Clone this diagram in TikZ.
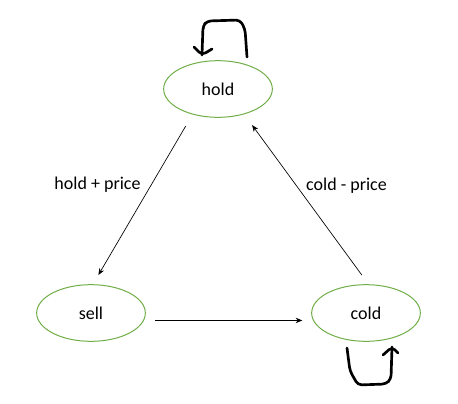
\documentclass[tikz,border=0pt]{standalone}
\usepackage{fontspec}
\setmainfont{Carlito}
\usepackage{tikz}
\usetikzlibrary{arrows.meta, shapes.geometric, calc}
\definecolor{stategreen}{HTML}{70AD47}

\begin{document}
\begin{tikzpicture}[
    x=0.75pt, y=-0.75pt,
    state/.style={ellipse, draw=stategreen, line width=0.75pt, inner sep=0pt,
                  minimum width=81.5pt, minimum height=42.5pt, font=\fontsize{13.5}{16}\selectfont},
    lbl/.style={font=\fontsize{13.5}{16}\selectfont},
    arr/.style={-{Stealth[length=5pt, width=4pt]}, line width=0.5pt, black},
    loopline/.style={line width=2pt, line cap=round, line join=round, rounded corners=3pt},
]
    \useasboundingbox (0,0) rectangle (458,404);

    % states
    \node[state] (hold) at (218, 89) {hold};
    \node[state] (sell) at (91, 313) {sell};
    \node[state] (cold) at (366, 313) {cold};

    % transitions
    \draw[arr, shorten <=10pt, shorten >=8pt] (hold.225) -- (sell.86);
    \draw[arr, shorten <=8.5pt, shorten >=10pt] (cold.85) -- (hold.316);
    \draw[arr, shorten <=8.5pt, shorten >=8pt] (sell.352) -- (cold.188);

    \node[lbl] (hp) at (97.5, 185) {hold + price};
    \node[lbl] (cp) at (346.5, 186) {cold - price};

    % self loops, drawn by hand
    \draw[loopline] ($(hold)+(29,-32)$) -- ($(hold)+(27,-60)$) -- ($(hold)+(22,-69)$)
        -- ($(hold)+(-11,-68)$) -- ($(hold)+(-15,-63)$) -- ($(hold)+(-16,-34)$);
    \draw[loopline] ($(hold)+(-24,-42)$) -- ($(hold)+(-16,-34)$) -- ($(hold)+(-6,-40)$);

    \draw[loopline] ($(cold)+(-19,35)$) -- ($(cold)+(-16,58)$) -- ($(cold)+(-8,72)$)
        -- ($(cold)+(20,71)$) -- ($(cold)+(25,66)$) -- ($(cold)+(26,34)$);
    \draw[loopline] ($(cold)+(17,42)$) -- ($(cold)+(26,34)$) -- ($(cold)+(32,40)$);
\end{tikzpicture}
\end{document}
